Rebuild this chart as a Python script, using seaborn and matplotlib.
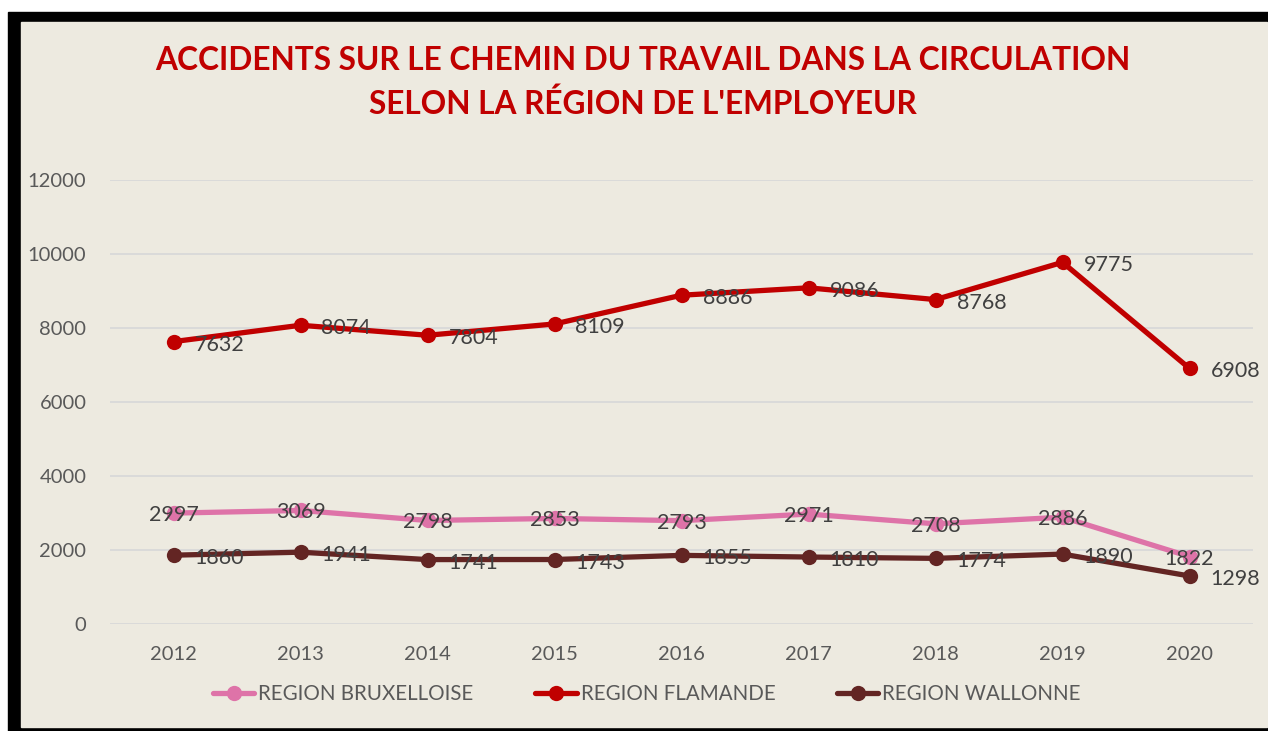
import numpy as np
import pandas as pd
import matplotlib
matplotlib.use("Agg")
import matplotlib.pyplot as plt
from matplotlib.lines import Line2D
from matplotlib.patches import Rectangle
import seaborn as sns

years = [2012, 2013, 2014, 2015, 2016, 2017, 2018, 2019, 2020]
bruxelles = [2997, 3069, 2798, 2853, 2793, 2971, 2708, 2886, 1822]
flandre = [7632, 8074, 7804, 8109, 8886, 9086, 8768, 9775, 6908]
wallonie = [1860, 1941, 1741, 1743, 1855, 1810, 1774, 1890, 1298]
regions = ["REGION BRUXELLOISE", "REGION FLAMANDE", "REGION WALLONNE"]
yticks = [0, 2000, 4000, 6000, 8000, 10000, 12000]

colors = {"REGION BRUXELLOISE": "#DE73A8",
          "REGION FLAMANDE": "#C00000",
          "REGION WALLONNE": "#632523"}

df = pd.DataFrame({
    "year": years * 3,
    "value": bruxelles + flandre + wallonie,
    "region": [r for r in regions for _ in years],
})

sns.set_style("white")
plt.rcParams["font.family"] = ["Lato", "DejaVu Sans"]

W, H = 1268, 731
fig = plt.figure(figsize=(W / 100, H / 100), dpi=100)
fig.patch.set_facecolor("white")
# frame: black border then beige panel
fig.patches.append(Rectangle((8 / W, 0), (W - 8) / W, (H - 12) / H,
                             transform=fig.transFigure, color="black", zorder=-10))
fig.patches.append(Rectangle((21 / W, 4 / H), (1267 - 21) / W, (727 - 22) / H,
                             transform=fig.transFigure, color="#EDEAE0", zorder=-9))

ax = fig.add_axes([110 / W, (H - 624) / H, (1253 - 110) / W, (624 - 180) / H])
ax.set_facecolor("none")

sns.lineplot(data=df, x="year", y="value", hue="region", palette=colors,
             marker="o", markersize=11, markeredgewidth=0, linewidth=3.8,
             legend=False, ax=ax, zorder=3)

ax.set_xlim(2011.5, 2020.5)
ax.set_ylim(0, 12000)
ax.set_xticks(years)
ax.set_xticklabels([str(y) for y in years])
ax.set_yticks(yticks)
ax.grid(axis="y", color="#D9D9D9", linewidth=1.3, zorder=0)
ax.grid(axis="x", visible=False)
for s in ax.spines.values():
    s.set_visible(False)
ax.tick_params(axis="both", length=0, labelsize=14.5, labelcolor="#595959")
ax.tick_params(axis="y", pad=17)
ax.tick_params(axis="x", pad=16)
ax.set_xlabel("")
ax.set_ylabel("")

lab_kw = dict(textcoords="offset pixels", fontsize=15.5, color="#404040", zorder=5)
for x, v in zip(years, bruxelles):
    ax.annotate(str(v), (x, v), xytext=(0, -2), ha="center", va="center", **lab_kw)
for x, v in zip(years, flandre):
    ax.annotate(str(v), (x, v), xytext=(21, -3), ha="left", va="center", **lab_kw)
for x, v in zip(years, wallonie):
    ax.annotate(str(v), (x, v), xytext=(21, -3), ha="left", va="center", **lab_kw)

fig.text(643 / W, 1 - 61 / H, "ACCIDENTS SUR LE CHEMIN DU TRAVAIL DANS LA CIRCULATION",
         ha="center", va="center", fontsize=22.8, fontweight="bold", color="#C00000")
fig.text(643 / W, 1 - 104 / H, "SELON LA RÉGION DE L'EMPLOYEUR",
         ha="center", va="center", fontsize=22.8, fontweight="bold", color="#C00000")

handles = [Line2D([], [], color=colors[r], linewidth=3.8, marker="o",
                  markersize=11, markeredgewidth=0) for r in regions]
leg = fig.legend(handles, regions, loc="center", bbox_to_anchor=(647 / W, 1 - 694 / H),
                 ncol=3, frameon=False, fontsize=14.8, handlelength=2.0,
                 handletextpad=0.2, columnspacing=3.0)
for t in leg.get_texts():
    t.set_color("#595959")

fig.savefig("out.png", dpi=100)
